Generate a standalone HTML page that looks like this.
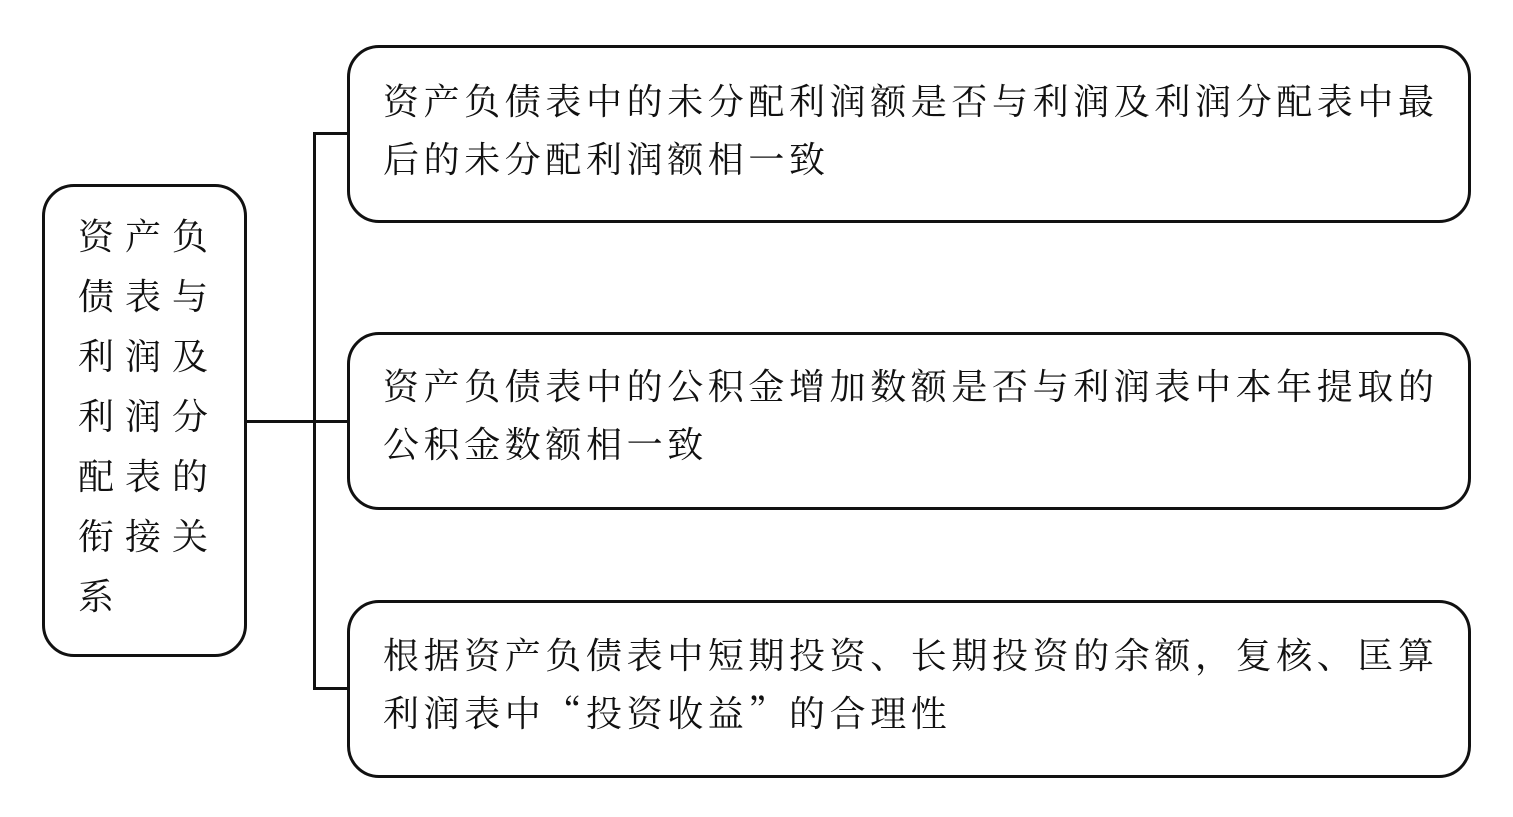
<!DOCTYPE html>
<html><head><meta charset="utf-8"><style>
body{margin:0;width:1513px;height:817px;background:#fff;position:relative;overflow:hidden;font-family:"Noto Serif CJK SC","Noto Sans CJK SC",serif;color:#111}
.box{position:absolute;border:3px solid #111;border-radius:32px;box-sizing:border-box}
.ln{position:absolute;background:#111}
.t{position:absolute;font-size:36px;letter-spacing:4.6px;line-height:58px;white-space:nowrap}
.lt{position:absolute;left:78px;top:205px;font-size:36px;letter-spacing:11px;line-height:60px;width:150px;white-space:normal;word-break:break-all}
</style></head><body>
<div class="box" style="left:42px;top:184px;width:205px;height:473px"></div>
<div class="lt">资产负债表与利润及利润分配表的衔接关系</div>
<div class="ln" style="left:247px;top:420px;width:68px;height:3px"></div>
<div class="ln" style="left:313px;top:132px;width:3px;height:558px"></div>
<div class="ln" style="left:313px;top:132px;width:36px;height:3px"></div>
<div class="ln" style="left:313px;top:420px;width:36px;height:3px"></div>
<div class="ln" style="left:313px;top:687px;width:36px;height:3px"></div>
<div class="box" style="left:347px;top:45px;width:1124px;height:178px"></div>
<div class="box" style="left:347px;top:332px;width:1124px;height:178px"></div>
<div class="box" style="left:347px;top:600px;width:1124px;height:178px"></div>
<div class="t" style="left:383px;top:71px">资产负债表中的未分配利润额是否与利润及利润分配表中最<br>后的未分配利润额相一致</div>
<div class="t" style="left:383px;top:356px">资产负债表中的公积金增加数额是否与利润表中本年提取的<br>公积金数额相一致</div>
<div class="t" style="left:383px;top:625px">根据资产负债表中短期投资、长期投资的余额，复核、匡算<br>利润表中“投资收益”的合理性</div>
</body></html>
